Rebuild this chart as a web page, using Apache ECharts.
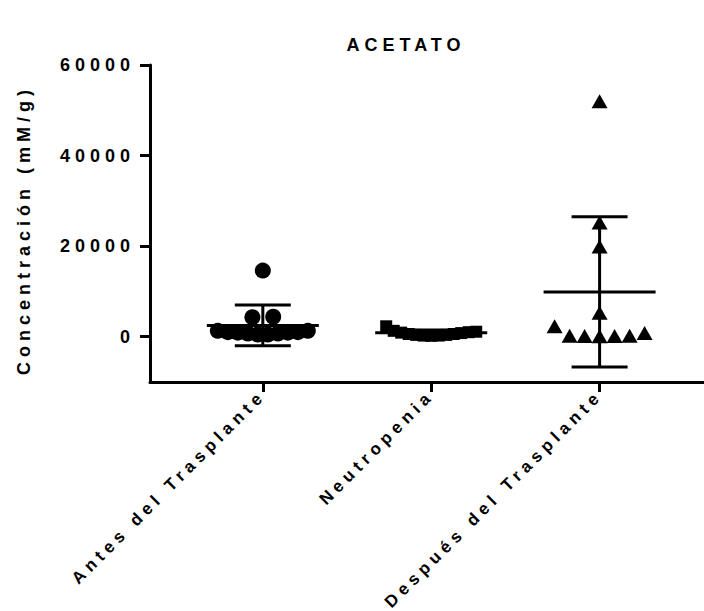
<!DOCTYPE html>
<html>
<head>
<meta charset="utf-8">
<script src="https://cdn.jsdelivr.net/npm/echarts@6/dist/echarts.min.js"></script>
<style>
html,body{margin:0;padding:0;background:#fff;}
#c{width:704px;height:611px;}
#c svg text{letter-spacing:5px;}
</style>
</head>
<body>
<div id="c"></div>
<script>
// ---- data ----
const categories = ['Antes del Trasplante', 'Neutropenia', 'Después del Trasplante'];
const antes = [14600, 4300, 4400, 1300, 1000, 900, 700, 500, 500, 700, 900, 1000, 1300];
const neutropenia = [2300, 1300, 900, 600, 400, 250, 200, 250, 400, 600, 800, 1000, 1100];
const despues = [52000, 25200, 19900, 5300, 2300, 200, 150, 100, 150, 200, 800];
const means = [2500, 880, 9900];
const sds = [4500, 600, 16600];
const yTicks = [0, 20000, 40000, 60000];
const chartTitle = 'ACETATO';
const yTitle = 'Concentración (mM/g)';

const groups = [antes, neutropenia, despues];
const symbols = ['circle', 'rect', 'triangle'];
const symbolSizes = [16, 12, [16, 14]];

// spread points that share the same row horizontally (scatter-dot layout)
function layout(values, gi) {
  const size = Array.isArray(symbolSizes[gi]) ? symbolSizes[gi][0] : symbolSizes[gi];
  const tol = 2500, maxW = 90;
  const clusters = [];
  values.forEach(v => {
    const last = clusters[clusters.length - 1];
    if (last && Math.abs(last[0] - v) <= tol) last.push(v); else clusters.push([v]);
  });
  const out = [];
  clusters.forEach(cl => {
    const k = cl.length;
    const step = k > 1 ? Math.min(size * 1.3, maxW / (k - 1)) : 0;
    cl.forEach((v, i) => {
      out.push({ value: [gi + 1, v], symbolOffset: [(i - (k - 1) / 2) * step, 0] });
    });
  });
  return out;
}

const font = 'Liberation Sans, Arial, sans-serif';
const fs = 18;
const chart = echarts.init(document.getElementById('c'), null, { renderer: 'svg' });

const series = groups.map((g, gi) => ({
  type: 'scatter',
  symbol: symbols[gi],
  symbolSize: symbolSizes[gi],
  itemStyle: { color: '#000', opacity: 1 },
  data: layout(g, gi),
  z: 2,
  silent: true
}));

series.push({
  type: 'custom',
  silent: true,
  z: 3,
  data: means.map((m, i) => [i + 1, m, sds[i]]),
  renderItem: function (params, api) {
    const x = api.value(0), m = api.value(1), s = api.value(2);
    const c = api.coord([x, m]);
    const hi = api.coord([x, m + s]);
    const lo = api.coord([x, m - s]);
    const st = { stroke: '#000', lineWidth: 3 };
    return {
      type: 'group',
      children: [
        { type: 'line', shape: { x1: c[0] - 56, y1: c[1], x2: c[0] + 56, y2: c[1] }, style: st },
        { type: 'line', shape: { x1: c[0], y1: hi[1], x2: c[0], y2: lo[1] }, style: st },
        { type: 'line', shape: { x1: c[0] - 28, y1: hi[1], x2: c[0] + 28, y2: hi[1] }, style: st },
        { type: 'line', shape: { x1: c[0] - 28, y1: lo[1], x2: c[0] + 28, y2: lo[1] }, style: st }
      ]
    };
  }
});

chart.setOption({
  animation: false,
  backgroundColor: '#fff',
  graphic: [{
    type: 'text',
    x: 406, y: 45,
    style: {
      text: chartTitle, fill: '#000',
      font: 'bold ' + fs + 'px ' + font,
      textAlign: 'center', textVerticalAlign: 'middle'
    }
  }, {
    type: 'text',
    x: 24, y: 230,
    rotation: Math.PI / 2,
    style: {
      text: yTitle, fill: '#000',
      font: 'bold ' + fs + 'px ' + font,
      textAlign: 'center', textVerticalAlign: 'middle'
    }
  }],
  grid: { left: 150, right: 0, top: 65, bottom: 229, outerBoundsMode: 'none', containLabel: false },
  xAxis: {
    type: 'value',
    min: 0.33, max: 3.62,
    splitLine: { show: false },
    axisLine: { onZero: false, lineStyle: { color: '#000', width: 3 } },
    axisTick: { show: true, customValues: [1, 2, 3], length: 10, lineStyle: { color: '#000', width: 3 } },
    axisLabel: {
      customValues: [1, 2, 3],
      formatter: v => categories[Math.round(v) - 1],
      rotate: 45, margin: 11,
      color: '#000', fontSize: 17, fontWeight: 'bold', fontFamily: font
    }
  },
  yAxis: {
    type: 'value',
    min: -10000, max: 60000,
    splitLine: { show: false },
    axisLine: { show: true, onZero: false, lineStyle: { color: '#000', width: 3 } },
    axisTick: { show: true, customValues: yTicks, length: 10, lineStyle: { color: '#000', width: 3 } },
    axisLabel: {
      customValues: yTicks, margin: 15,
      formatter: v => String(v),
      color: '#000', fontSize: fs, fontWeight: 'bold', fontFamily: font
    }
  },
  series: series
});
</script>
</body>
</html>
